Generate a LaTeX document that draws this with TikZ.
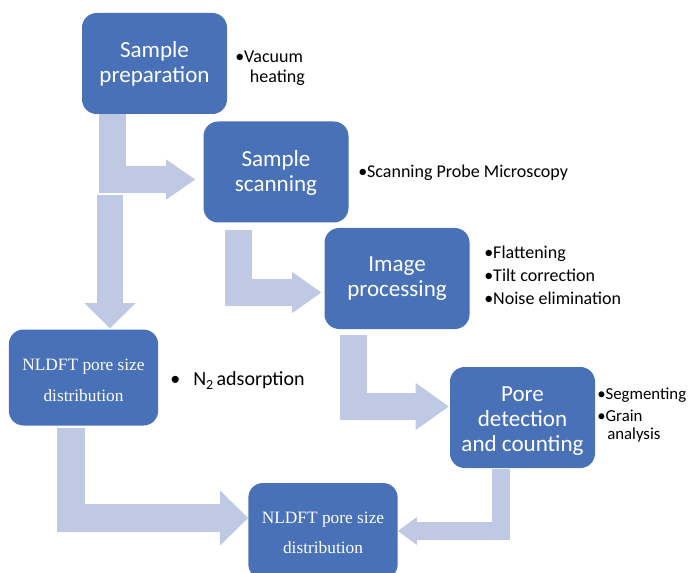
\documentclass[tikz,border=0pt]{standalone}
\usepackage{fontspec}
\setmainfont{Carlito}
\newfontfamily\seriff{Liberation Serif}
\usetikzlibrary{arrows.meta,calc}
\pgfdeclarelayer{background}
\pgfsetlayers{background,main}
\definecolor{stepfill}{RGB}{72,113,183}
\definecolor{flowfill}{RGB}{191,201,228}
\tikzset{
  stepbox/.style={fill=stepfill, rounded corners=11pt, text=white, align=center,
    minimum width=108.75pt, minimum height=75.75pt, inner sep=0pt,
    font=\fontsize{17.3}{18.8}\selectfont},
  nldftbox/.style={stepbox, minimum width=112pt, minimum height=72pt,
    font=\seriff\fontsize{13}{23}\selectfont},
  flow/.style n args={3}{draw=flowfill, line width=#1, line join=miter,
    -{Triangle[length=#2, width=#3, line width=0pt]}},
  % multi-line notes are anchored at the baseline of their last line
  note/.style={anchor=base west, inner sep=0pt, align=left,
    font=\fontsize{13.5}{17.25}\selectfont},
}
% taller first line pushes a centred text block slightly down
\newcommand\lowerby[1]{\rule{0pt}{#1}}
\begin{document}
\begin{tikzpicture}[x=0.75pt,y=-0.75pt]
\clip (0,0) rectangle (688,573);

% process steps
\node[stepbox] (prep) at (154.5,63.5) {Sample\\preparation};
\node[stepbox] (scan) at (276,172) {\lowerby{14pt}Sample\\scanning};
\node[stepbox] (proc) at (397,278.5) {Image\\processing};
\node[stepbox] (pore) at (522.5,417.5) {\lowerby{16pt}Pore\\detection\\and counting};
\node[nldftbox] (dftA) at (83.5,377.5) {\lowerby{12.5pt}NLDFT pore size\\distribution};
\node[nldftbox, yshift=-1.5pt] (dftB) at (323,529) {\lowerby{11.5pt}NLDFT pore size\\distribution};

% side notes
\node[note, font=\fontsize{13.5}{15}\selectfont] (vac) at (235,83) {•Vacuum\\\hspace*{11pt}heating};
\node[note] (spm) at (358,177.3) {•Scanning Probe Microscopy};
\node[note] (imgsteps) at (484,305) {•Flattening\\•Tilt correction\\•Noise elimination};
\node[note, font=\fontsize{12.6}{16.3}\selectfont] (grain) at (597,439.3) {•Segmenting\\•Grain\\[-3.1pt]\hspace*{7.5pt}analysis};
\node[note, font=\fontsize{15}{18}\selectfont] (nads) at (170,385)
  {\makebox[17.25pt][l]{•}N\raisebox{-3pt}{\fontsize{10.5}{10.5}\selectfont 2}\,adsorption};

% block arrows between steps
\begin{pgfonlayer}{background}
\draw[flow={20.25pt}{21.75pt}{30pt}] ($(prep.south)+(-42,0)$) |- ($(scan.west)+(-8,7.5)$);
\draw[flow={19.5pt}{18.75pt}{38.25pt}] ($(prep.south)+(-44.5,81)$) -- ($(dftA.north)+(26.5,-1)$);
\draw[flow={20.25pt}{21.75pt}{30.75pt}] ($(scan.south)+(-37.5,7)$) |- ($(proc.west)+(-3,14)$);
\draw[flow={20.25pt}{24.75pt}{35.25pt}] ($(proc.south)+(-43.5,6)$) |- ($(pore.west)+(-1,-11)$);
\draw[flow={21pt}{21pt}{41.25pt}] ($(dftA.south)+(-12.5,2)$) |- ($(dftB.west)+(0,-13)$);
\draw[flow={13.5pt}{14.25pt}{21pt}] ($(pore.south)+(-21.5,1)$) |- (dftB.east);
\end{pgfonlayer}
\end{tikzpicture}
\end{document}
